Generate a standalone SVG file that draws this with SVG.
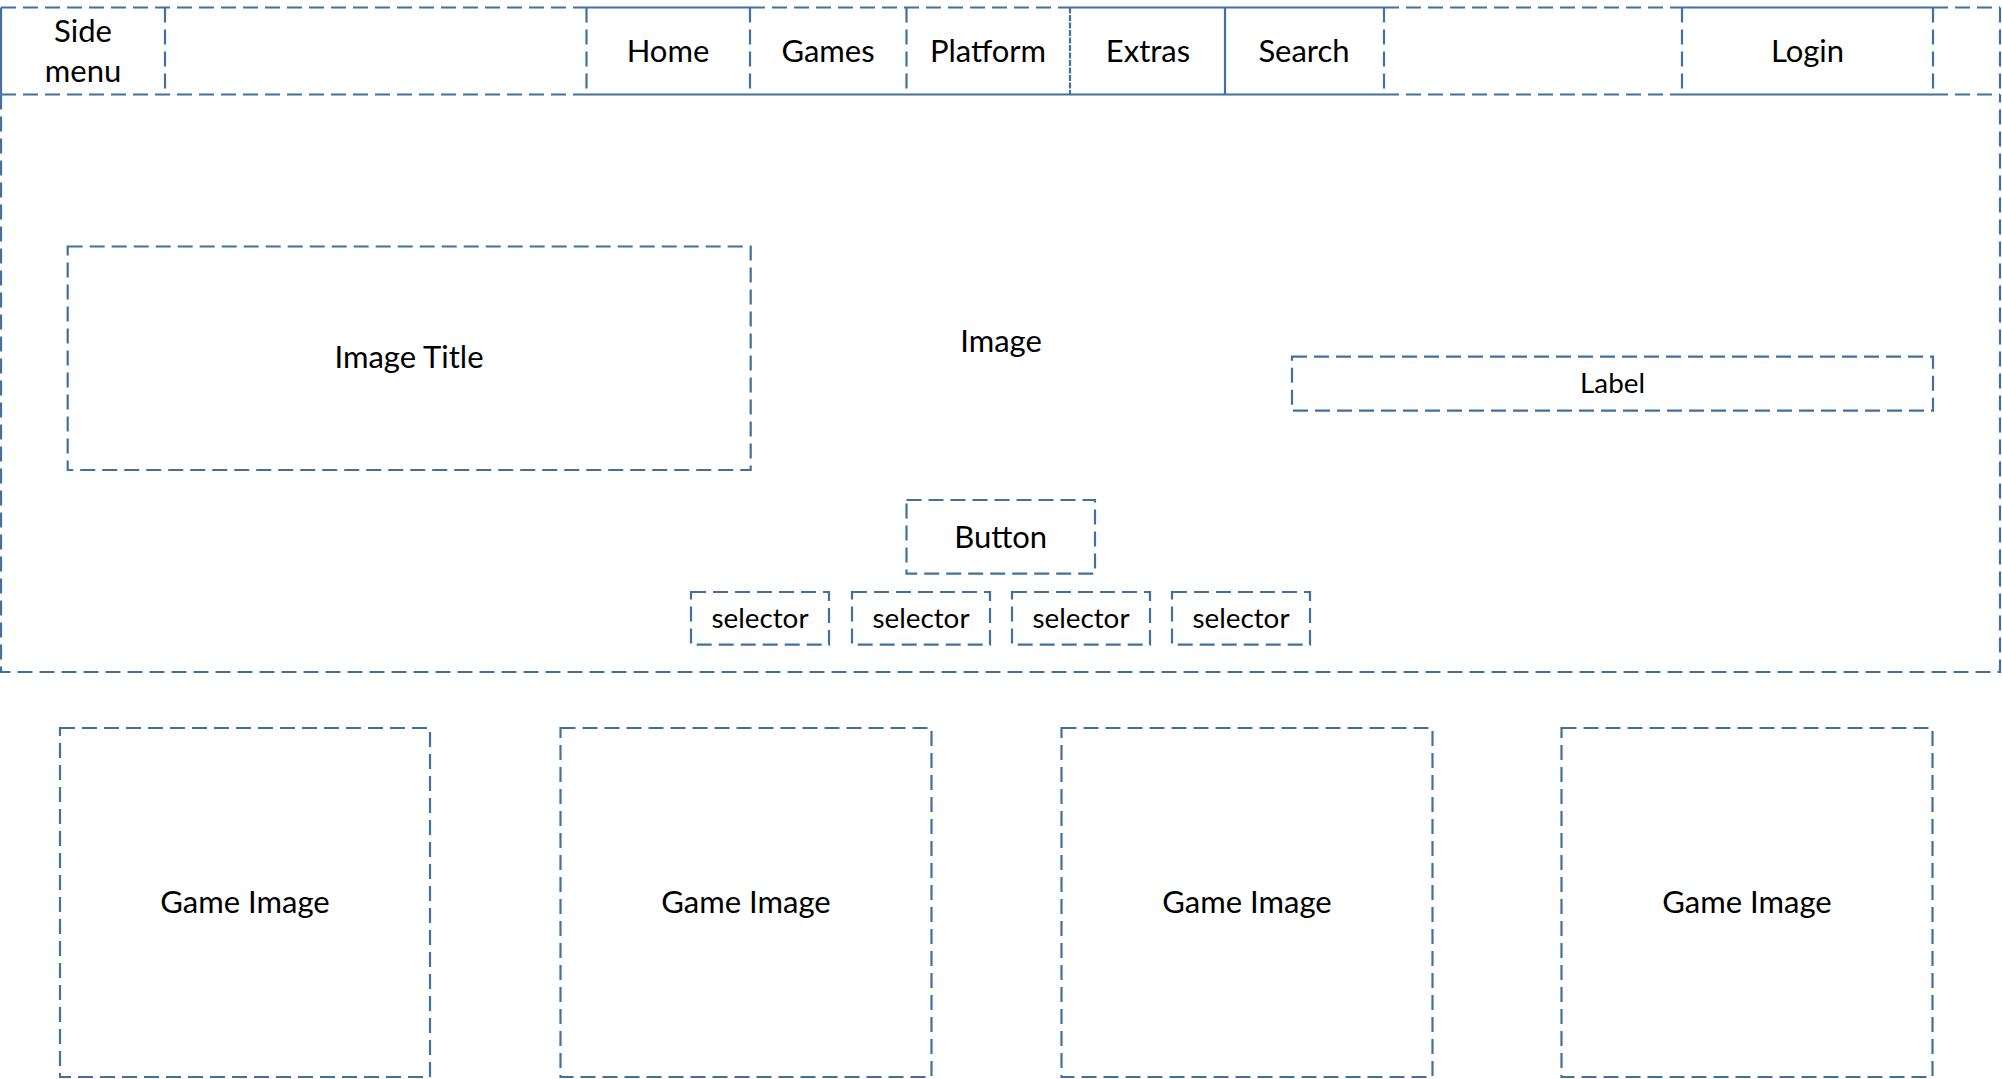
<svg xmlns="http://www.w3.org/2000/svg" width="2002" height="1079" viewBox="0 0 2002 1079">
<style>
.bg{fill:#ffffff}
.d{fill:none;stroke:#41719c;stroke-width:2.2;stroke-dasharray:15 7}
.dd{fill:none;stroke:#41719c;stroke-width:2.2;stroke-dasharray:6 1.5}
.s{fill:none;stroke:#41719c;stroke-width:2.2}
.t{font-family:Lato,"Liberation Sans",sans-serif;font-size:31px;fill:#000;text-anchor:middle}
.ts{font-family:Lato,"Liberation Sans",sans-serif;font-size:27.8px;fill:#000;text-anchor:middle}
</style>
<rect class="bg" x="0" y="0" width="2002" height="1079"/>

<g id="navbar">
  <line class="d" x1="1" y1="7.5" x2="586" y2="7.5"/>
  <line class="d" x1="750" y1="7.5" x2="1070" y2="7.5"/>
  <line class="d" x1="1384" y1="7.5" x2="1682" y2="7.5"/>
  <line class="d" x1="1933" y1="7.5" x2="2000" y2="7.5"/>
  <line class="d" x1="1" y1="94.5" x2="586" y2="94.5"/>
  <line class="d" x1="1384" y1="94.5" x2="1673" y2="94.5"/>
  <line class="d" x1="1933" y1="94.5" x2="2000" y2="94.5"/>
  <line class="s" x1="1" y1="7.5" x2="1" y2="94.5"/>
  <line class="d" x1="2000" y1="7.5" x2="2000" y2="94.5"/>
  <line class="s" x1="586" y1="94.5" x2="1384" y2="94.5"/>
</g>

<g id="side-menu">
  <line class="d" x1="165" y1="7.5" x2="165" y2="94.5"/>
  <text class="t" x="83" y="42.3">Side</text>
  <text class="t" x="83" y="81.7">menu</text>
</g>

<g id="nav-home">
  <line class="s" x1="586" y1="7.5" x2="750" y2="7.5"/>
  <line class="d" x1="586.5" y1="7.5" x2="586.5" y2="94.5"/>
  <text class="t" x="668" y="61.7">Home</text>
</g>

<g id="nav-games">
  <line class="d" x1="750" y1="7.5" x2="750" y2="94.5"/>
  <text class="t" x="828" y="61.7">Games</text>
</g>

<g id="nav-platform">
  <line class="d" x1="906.5" y1="7.5" x2="906.5" y2="94.5"/>
  <line class="dd" x1="1070" y1="7.5" x2="1070" y2="94.5"/>
  <text class="t" x="988" y="61.7">Platform</text>
</g>

<g id="nav-extras">
  <line class="s" x1="1070" y1="7.5" x2="1384" y2="7.5"/>
  <line class="s" x1="1225" y1="7.5" x2="1225" y2="94.5"/>
  <text class="t" x="1148" y="61.7">Extras</text>
</g>

<g id="nav-search">
  <line class="d" x1="1384" y1="7.5" x2="1384" y2="94.5"/>
  <text class="t" x="1304" y="61.7">Search</text>
</g>

<g id="nav-login">
  <line class="s" x1="1682" y1="7.5" x2="1933" y2="7.5"/>
  <line class="s" x1="1673" y1="94.5" x2="1933" y2="94.5"/>
  <line class="d" x1="1682" y1="7.5" x2="1682" y2="94.5"/>
  <line class="d" x1="1933" y1="7.5" x2="1933" y2="94.5"/>
  <text class="t" x="1807.5" y="61.7">Login</text>
</g>

<g id="hero-image">
  <path class="d" d="M1 94.5 V672 H2000 V94.5"/>
  <text class="t" x="1001" y="351.7">Image</text>
</g>

<g id="image-title">
  <rect class="d" x="67.7" y="246.5" width="683" height="223.5"/>
  <text class="t" x="409" y="368.3">Image Title</text>
</g>

<g id="label">
  <rect class="d" x="1292" y="356.7" width="641" height="54"/>
  <text class="ts" x="1612.5" y="392.7">Label</text>
</g>

<g id="button">
  <rect class="d" x="906.5" y="500" width="188.5" height="73.7"/>
  <text class="t" x="1000.7" y="547.7">Button</text>
</g>

<g id="selector-1">
  <rect class="d" x="691" y="592" width="138" height="52.7"/>
  <text class="ts" x="760" y="627.7">selector</text>
</g>
<g id="selector-2">
  <rect class="d" x="852" y="592" width="138" height="52.7"/>
  <text class="ts" x="921" y="627.7">selector</text>
</g>
<g id="selector-3">
  <rect class="d" x="1012" y="592" width="138" height="52.7"/>
  <text class="ts" x="1081" y="627.7">selector</text>
</g>
<g id="selector-4">
  <rect class="d" x="1172" y="592" width="138" height="52.7"/>
  <text class="ts" x="1241" y="627.7">selector</text>
</g>

<g id="game-image-1">
  <rect class="d" x="60" y="728" width="370" height="349"/>
  <text class="t" x="245" y="913.3">Game Image</text>
</g>
<g id="game-image-2">
  <rect class="d" x="560.5" y="728" width="371" height="349"/>
  <text class="t" x="746" y="913.3">Game Image</text>
</g>
<g id="game-image-3">
  <rect class="d" x="1061.5" y="728" width="371" height="349"/>
  <text class="t" x="1247" y="913.3">Game Image</text>
</g>
<g id="game-image-4">
  <rect class="d" x="1561.5" y="728" width="371" height="349"/>
  <text class="t" x="1747" y="913.3">Game Image</text>
</g>

<g id="connectors"/>
</svg>
